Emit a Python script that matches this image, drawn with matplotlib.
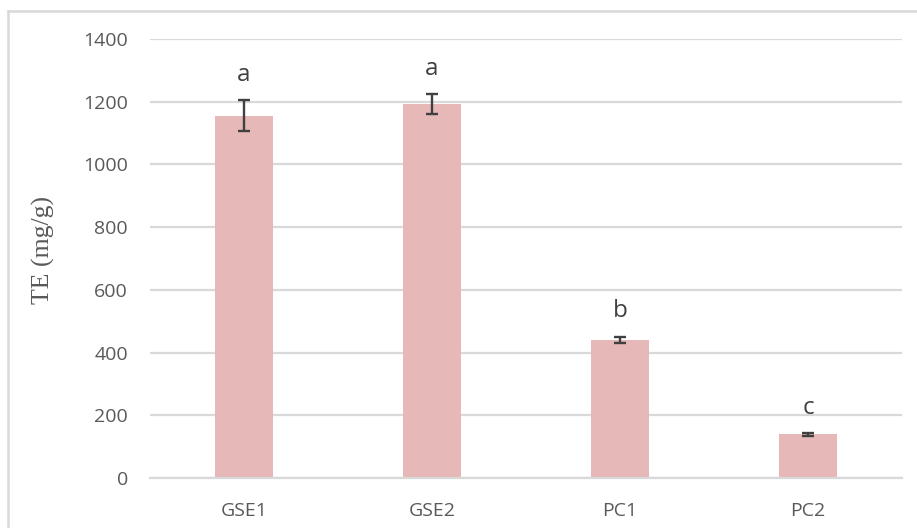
import matplotlib
matplotlib.use("Agg")
import matplotlib.pyplot as plt
from matplotlib.lines import Line2D

categories = ["GSE1", "GSE2", "PC1", "PC2"]
values = [1156, 1193, 441, 139]
errors = [49, 31, 10, 4]
letters = ["a", "a", "b", "c"]
yticks = [0, 200, 400, 600, 800, 1000, 1200, 1400]

W, H = 917, 528
fig = plt.figure(figsize=(W / 100, H / 100), dpi=100)
ax = fig.add_axes([150 / W, 1 - 478 / H, (902 - 150) / W, (478 - 39) / H])

x = list(range(len(categories)))
ax.bar(x, values, width=0.31, color="#E6B8B7", zorder=2)
ax.errorbar(x, values, yerr=errors, fmt="none", ecolor="#404040",
            elinewidth=1.7, capsize=4.2, capthick=1.7, zorder=3)
for xi, v, e, lt in zip(x, values, errors, letters):
    ax.text(xi, v + e + 42, lt, ha="center", va="bottom", fontsize=17.5,
            color="#404040", family="Open Sans")

ax.set_xlim(-0.5, len(categories) - 0.5)
ax.set_ylim(0, 1400)
ax.set_yticks(yticks)
ax.set_yticklabels([str(t) for t in yticks])
ax.set_xticks(x)
ax.set_xticklabels(categories)
ax.yaxis.grid(True, color="#D9D9D9", linewidth=1.6, zorder=0)
ax.set_axisbelow(True)
for s in ["top", "right", "left"]:
    ax.spines[s].set_visible(False)
ax.spines["bottom"].set_color("#D9D9D9")
ax.spines["bottom"].set_linewidth(1.6)
ax.tick_params(axis="both", length=0, labelcolor="#595959", labelsize=14)
ax.tick_params(axis="y", pad=16)
ax.tick_params(axis="x", pad=17)
for lab in ax.get_xticklabels() + ax.get_yticklabels():
    lab.set_family("Open Sans")

ax.set_ylabel("TE (mg/g)", family="Liberation Serif", fontsize=18.5,
              color="#595959")
ax.yaxis.set_label_coords((55 - 150) / (902 - 150), 0.52)

# outer chart border (light gray)
fig.add_artist(Line2D([8 / W, 8 / W], [0, 1 - 11 / H], transform=fig.transFigure,
                      color="#D9D9D9", linewidth=1.8))
fig.add_artist(Line2D([8 / W, 1], [1 - 11 / H, 1 - 11 / H], transform=fig.transFigure,
                      color="#D9D9D9", linewidth=1.8))

fig.savefig("out.png", dpi=100, facecolor="white")
